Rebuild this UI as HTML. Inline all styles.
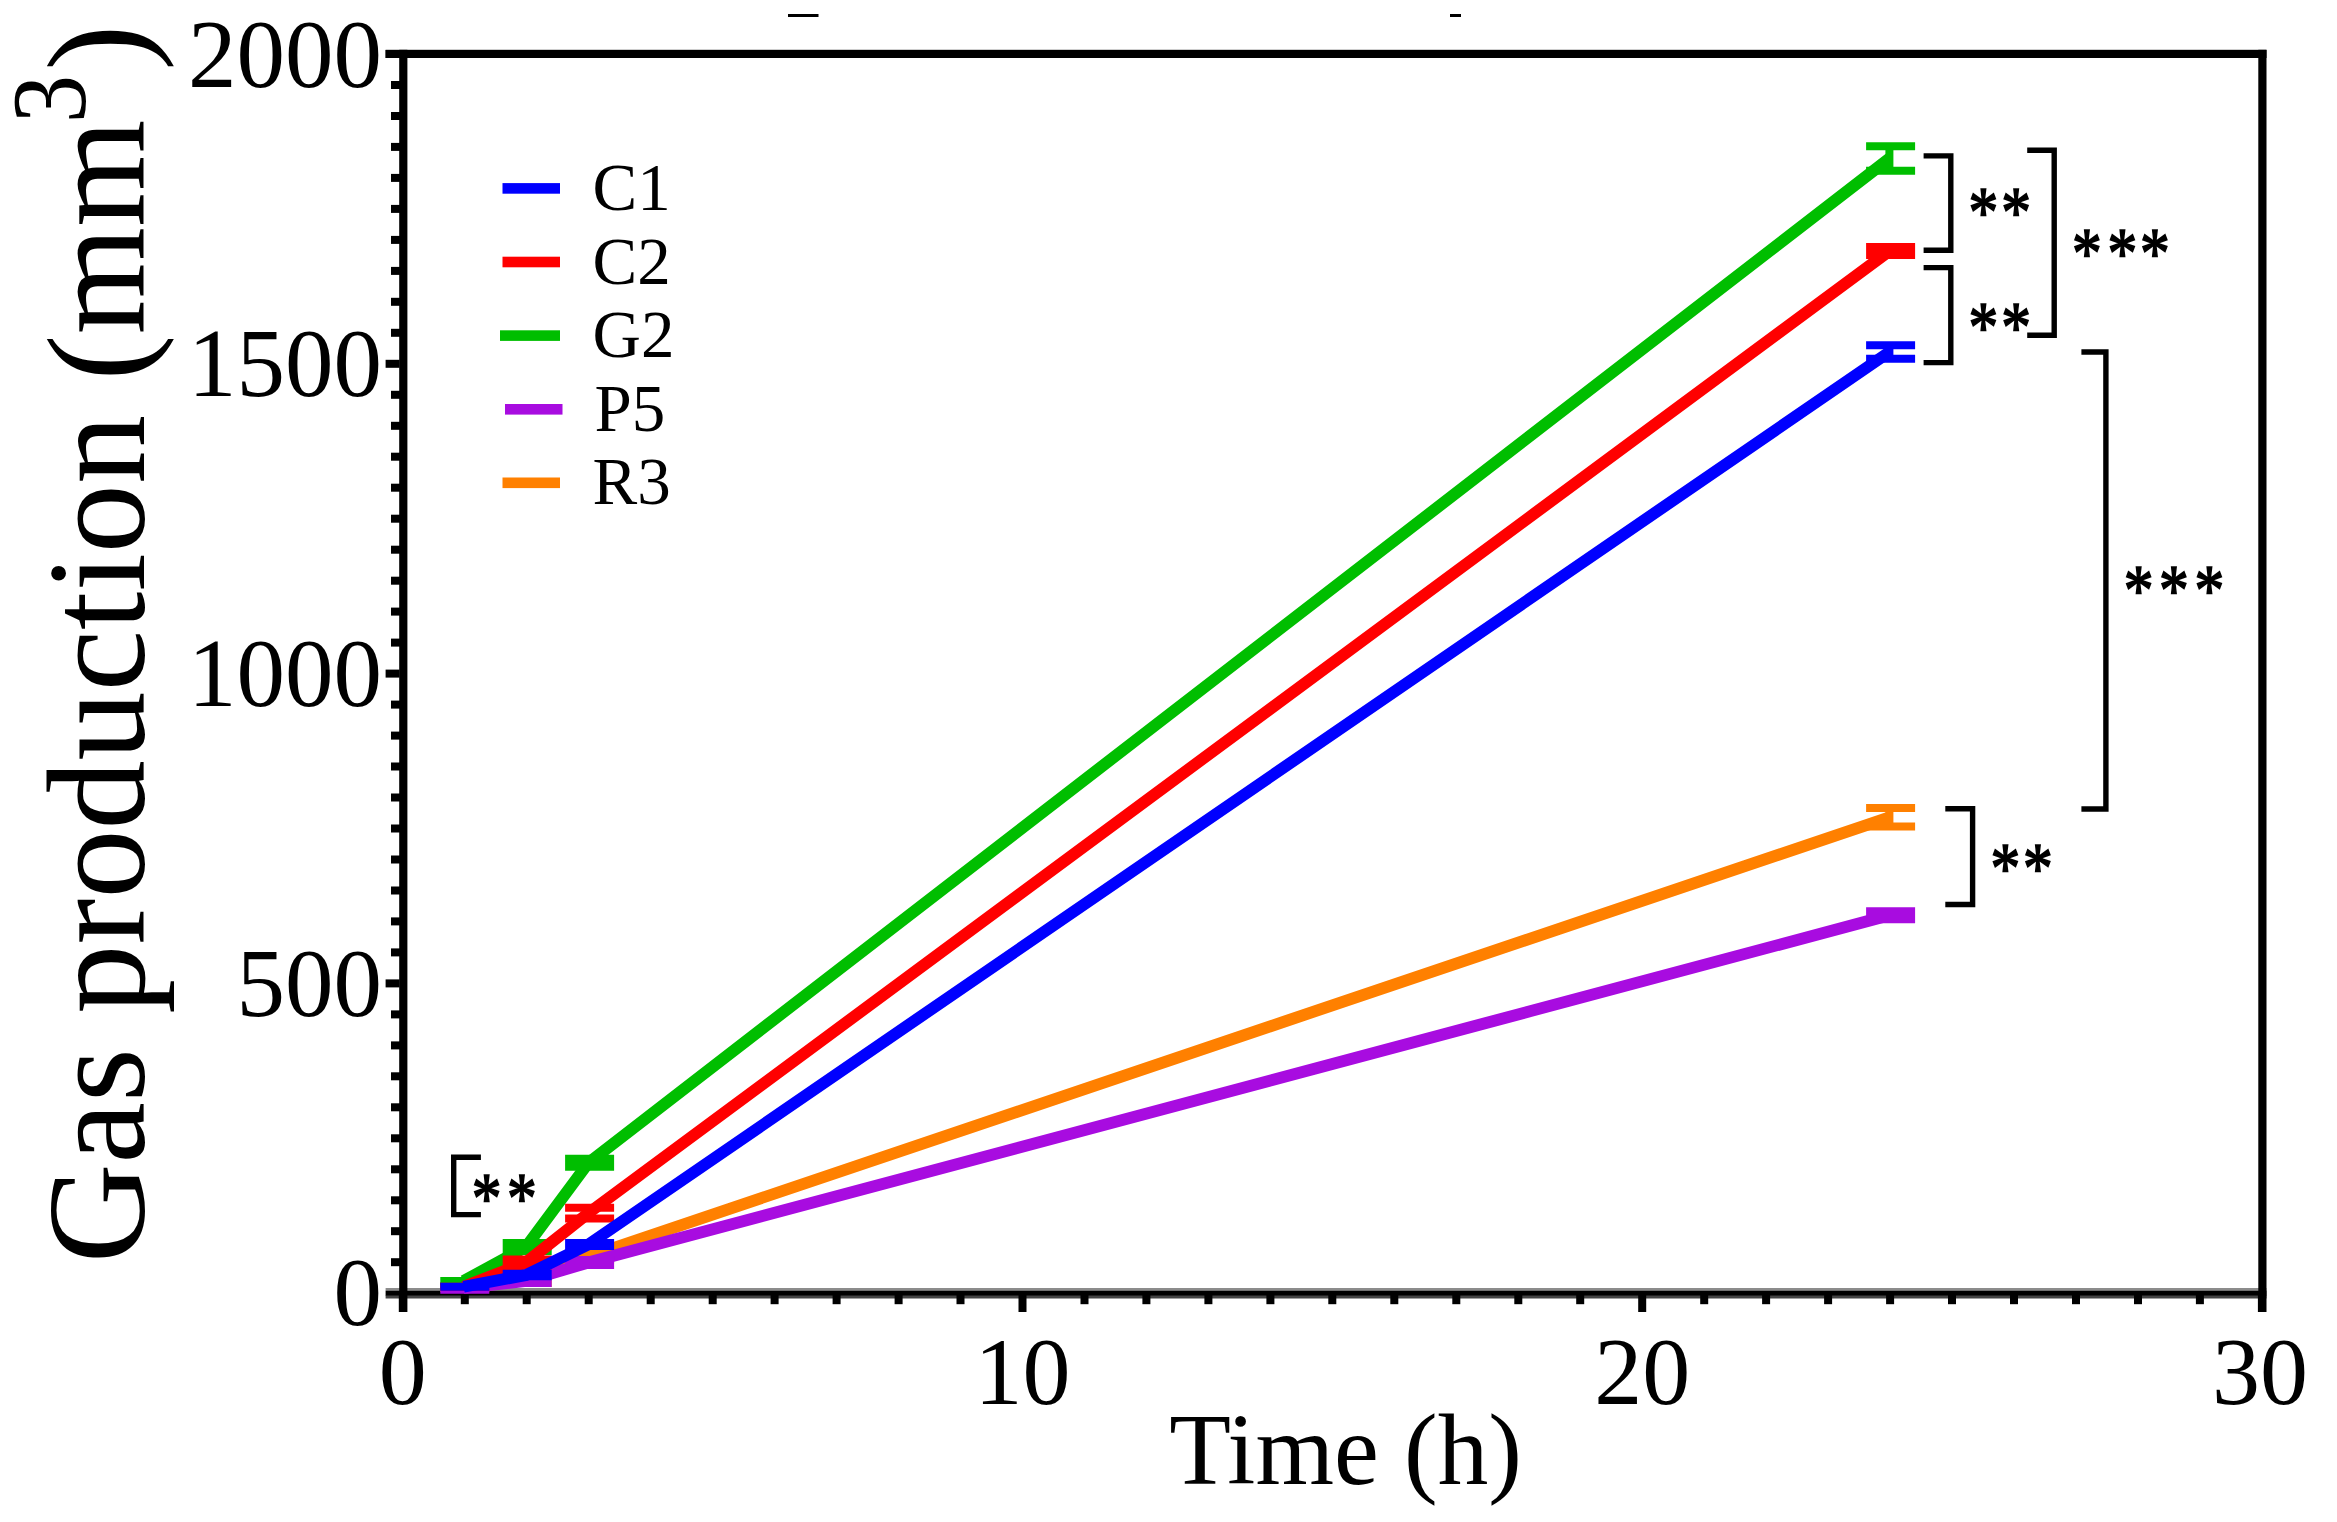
<!DOCTYPE html>
<html lang="en"><head><meta charset="utf-8"><title>Gas production</title>
<style>html,body{margin:0;padding:0;background:#fff;}body{width:2337px;height:1522px;overflow:hidden;}svg{display:block;}text{font-family:"Liberation Serif",serif;fill:#000;}</style>
</head><body>
<svg width="2337" height="1522" viewBox="0 0 2337 1522">
<rect width="2337" height="1522" fill="#fff"/>
<rect x="788" y="14" width="30.5" height="3" fill="#000"/>
<rect x="1450" y="14" width="11" height="3" fill="#000"/>
<g fill="#000">
<rect x="385.6" y="49.8" width="1880.9" height="8.2"/>
<rect x="385.6" y="1288" width="1880.9" height="3" fill="#8c8c8c"/>
<rect x="385.6" y="1295.5" width="1880.9" height="3" fill="#444"/>
<rect x="385.6" y="1290.8" width="1880.9" height="5"/>
<rect x="399.2" y="49.8" width="8.2" height="1262.2"/>
<rect x="2258.3" y="49.8" width="8.2" height="1262.2"/>
<rect x="391" y="1258.2" width="9" height="8"/>
<rect x="391" y="1227.2" width="9" height="8"/>
<rect x="391" y="1196.3" width="9" height="8"/>
<rect x="391" y="1165.3" width="9" height="8"/>
<rect x="391" y="1134.3" width="9" height="8"/>
<rect x="391" y="1103.3" width="9" height="8"/>
<rect x="391" y="1072.3" width="9" height="8"/>
<rect x="391" y="1041.4" width="9" height="8"/>
<rect x="391" y="1010.4" width="9" height="8"/>
<rect x="385.6" y="979.4" width="14" height="8"/>
<rect x="391" y="948.4" width="9" height="8"/>
<rect x="391" y="917.4" width="9" height="8"/>
<rect x="391" y="886.5" width="9" height="8"/>
<rect x="391" y="855.5" width="9" height="8"/>
<rect x="391" y="824.5" width="9" height="8"/>
<rect x="391" y="793.5" width="9" height="8"/>
<rect x="391" y="762.5" width="9" height="8"/>
<rect x="391" y="731.6" width="9" height="8"/>
<rect x="391" y="700.6" width="9" height="8"/>
<rect x="385.6" y="669.6" width="14" height="8"/>
<rect x="391" y="638.6" width="9" height="8"/>
<rect x="391" y="607.6" width="9" height="8"/>
<rect x="391" y="576.7" width="9" height="8"/>
<rect x="391" y="545.7" width="9" height="8"/>
<rect x="391" y="514.7" width="9" height="8"/>
<rect x="391" y="483.7" width="9" height="8"/>
<rect x="391" y="452.7" width="9" height="8"/>
<rect x="391" y="421.8" width="9" height="8"/>
<rect x="391" y="390.8" width="9" height="8"/>
<rect x="385.6" y="359.8" width="14" height="8"/>
<rect x="391" y="328.8" width="9" height="8"/>
<rect x="391" y="297.8" width="9" height="8"/>
<rect x="391" y="266.9" width="9" height="8"/>
<rect x="391" y="235.9" width="9" height="8"/>
<rect x="391" y="204.9" width="9" height="8"/>
<rect x="391" y="173.9" width="9" height="8"/>
<rect x="391" y="142.9" width="9" height="8"/>
<rect x="391" y="112.0" width="9" height="8"/>
<rect x="391" y="81.0" width="9" height="8"/>
<rect x="385.6" y="50.0" width="14" height="8"/>
<rect x="398.8" y="1293" width="8" height="19"/>
<rect x="460.8" y="1293" width="8" height="11.2"/>
<rect x="522.7" y="1293" width="8" height="11.2"/>
<rect x="584.7" y="1293" width="8" height="11.2"/>
<rect x="646.7" y="1293" width="8" height="11.2"/>
<rect x="708.7" y="1293" width="8" height="11.2"/>
<rect x="770.6" y="1293" width="8" height="11.2"/>
<rect x="832.6" y="1293" width="8" height="11.2"/>
<rect x="894.6" y="1293" width="8" height="11.2"/>
<rect x="956.5" y="1293" width="8" height="11.2"/>
<rect x="1018.5" y="1293" width="8" height="19"/>
<rect x="1080.5" y="1293" width="8" height="11.2"/>
<rect x="1142.4" y="1293" width="8" height="11.2"/>
<rect x="1204.4" y="1293" width="8" height="11.2"/>
<rect x="1266.4" y="1293" width="8" height="11.2"/>
<rect x="1328.3" y="1293" width="8" height="11.2"/>
<rect x="1390.3" y="1293" width="8" height="11.2"/>
<rect x="1452.3" y="1293" width="8" height="11.2"/>
<rect x="1514.3" y="1293" width="8" height="11.2"/>
<rect x="1576.2" y="1293" width="8" height="11.2"/>
<rect x="1638.2" y="1293" width="8" height="19"/>
<rect x="1700.2" y="1293" width="8" height="11.2"/>
<rect x="1762.1" y="1293" width="8" height="11.2"/>
<rect x="1824.1" y="1293" width="8" height="11.2"/>
<rect x="1886.1" y="1293" width="8" height="11.2"/>
<rect x="1948.0" y="1293" width="8" height="11.2"/>
<rect x="2010.0" y="1293" width="8" height="11.2"/>
<rect x="2072.0" y="1293" width="8" height="11.2"/>
<rect x="2134.0" y="1293" width="8" height="11.2"/>
<rect x="2195.9" y="1293" width="8" height="11.2"/>
<rect x="2257.9" y="1293" width="8" height="19"/>
</g>
<g fill="none" stroke-linejoin="miter" stroke-linecap="butt">
<g stroke="#ff8000">
<path d="M463.6,1288.0 L526.0,1280.0 L588.4,1256.5 L1889.4,817.3" stroke-width="11.8"/>
<path d="M463.6,1288.0 V1288.0 M440.3,1288.0 H489.3 M440.3,1288.0 H489.3" stroke-width="8"/>
<path d="M526.0,1277.0 V1283.0 M502.7,1277.0 H551.7 M502.7,1283.0 H551.7" stroke-width="8"/>
<path d="M588.4,1253.5 V1259.5 M565.1,1253.5 H614.1 M565.1,1259.5 H614.1" stroke-width="8"/>
<path d="M1889.4,808.0 V826.6 M1866.1,808.0 H1915.1 M1866.1,826.6 H1915.1" stroke-width="8"/>
</g>
<g stroke="#a80ce0">
<path d="M463.6,1288.0 L526.0,1281.0 L588.4,1262.5 L1889.4,915.3" stroke-width="11.8"/>
<path d="M463.6,1286.2 V1289.8 M440.3,1286.2 H489.3 M440.3,1289.8 H489.3" stroke-width="8"/>
<path d="M526.0,1279.0 V1283.0 M502.7,1279.0 H551.7 M502.7,1283.0 H551.7" stroke-width="8"/>
<path d="M588.4,1259.9 V1265.1 M565.1,1259.9 H614.1 M565.1,1265.1 H614.1" stroke-width="8"/>
<path d="M1889.4,911.3 V919.3 M1866.1,911.3 H1915.1 M1866.1,919.3 H1915.1" stroke-width="8"/>
</g>
<g stroke="#00be00">
<path d="M463.6,1281.0 L526.0,1247.0 L588.4,1162.8 L1889.4,158.5" stroke-width="11.8"/>
<path d="M463.6,1281.0 V1281.0 M440.3,1281.0 H489.3 M440.3,1281.0 H489.3" stroke-width="8"/>
<path d="M526.0,1243.0 V1251.0 M502.7,1243.0 H551.7 M502.7,1251.0 H551.7" stroke-width="8"/>
<path d="M588.4,1158.8 V1166.8 M565.1,1158.8 H614.1 M565.1,1166.8 H614.1" stroke-width="8"/>
<path d="M1889.4,146.3 V170.7 M1866.1,146.3 H1915.1 M1866.1,170.7 H1915.1" stroke-width="8"/>
</g>
<g stroke="#ff0000">
<path d="M463.6,1286.8 L526.0,1262.5 L588.4,1213.1 L1889.4,251.0" stroke-width="11.8"/>
<path d="M463.6,1286.8 V1286.8 M440.3,1286.8 H489.3 M440.3,1286.8 H489.3" stroke-width="8"/>
<path d="M526.0,1259.4 V1265.6 M502.7,1259.4 H551.7 M502.7,1265.6 H551.7" stroke-width="8"/>
<path d="M588.4,1207.8 V1218.4 M565.1,1207.8 H614.1 M565.1,1218.4 H614.1" stroke-width="8"/>
<path d="M1889.4,247.0 V255.0 M1866.1,247.0 H1915.1 M1866.1,255.0 H1915.1" stroke-width="8"/>
</g>
<g stroke="#0000ff">
<path d="M463.6,1286.8 L526.0,1275.0 L588.4,1244.5 L1889.4,352.0" stroke-width="11.8"/>
<path d="M463.6,1286.8 V1286.8 M440.3,1286.8 H489.3 M440.3,1286.8 H489.3" stroke-width="8"/>
<path d="M526.0,1273.7 V1276.3 M502.7,1273.7 H551.7 M502.7,1276.3 H551.7" stroke-width="8"/>
<path d="M588.4,1243.0 V1246.0 M565.1,1243.0 H614.1 M565.1,1246.0 H614.1" stroke-width="8"/>
<path d="M1889.4,345.3 V358.7 M1866.1,345.3 H1915.1 M1866.1,358.7 H1915.1" stroke-width="8"/>
</g>
</g>
<g font-size="97" text-anchor="end">
<text x="382" y="1324.5">0</text>
<text x="382" y="1015.9">500</text>
<text x="382" y="706.1">1000</text>
<text x="382" y="396.3">1500</text>
<text x="382" y="86.5">2000</text>
</g>
<g font-size="96" text-anchor="middle">
<text x="402.8" y="1403.5">0</text>
<text x="1022.5" y="1403.5">10</text>
<text x="1642.2" y="1403.5">20</text>
<text x="2259.9" y="1403.5">30</text>
</g>
<text x="1345.5" y="1483.5" font-size="101" text-anchor="middle">Time (h)</text>
<g transform="translate(144.2,1263.2) rotate(-90)">
<text transform="scale(0.9908,1)" x="0" y="0" font-size="139.5">Gas production (mm</text>
<text transform="translate(1140.0,-59.7) scale(0.92,1)" x="0" y="0" font-size="105">3</text>
<text transform="translate(1192.5,0) scale(0.9908,1)" x="0" y="0" font-size="139.5">)</text>
</g>
<rect x="502.5" y="183.1" width="57.5" height="10.6" fill="#0000ff"/>
<text x="592.5" y="210.3" font-size="67">C1</text>
<rect x="502.5" y="256.7" width="57.5" height="10.6" fill="#ff0000"/>
<text x="592.5" y="283.8" font-size="67">C2</text>
<rect x="500.0" y="330.3" width="60.0" height="10.6" fill="#00be00"/>
<text x="592.5" y="357.3" font-size="67">G2</text>
<rect x="505.0" y="404.0" width="57.5" height="10.6" fill="#a80ce0"/>
<text x="594.5" y="430.8" font-size="67">P5</text>
<rect x="502.5" y="477.5" width="57.5" height="10.6" fill="#ff8000"/>
<text x="592.5" y="504.3" font-size="67">R3</text>
<g fill="none" stroke="#000" stroke-width="5.4" stroke-linejoin="miter">
<path d="M1923.6,155.9 H1950.8 V250.3 H1923.6"/>
<path d="M1923.6,267.6 H1950.8 V362.6 H1923.6"/>
<path d="M2027.2,150.3 H2054.2 V335.3 H2027.2"/>
<path d="M2081.4,352 H2105.9 V809 H2081.4"/>
<path d="M1945.3,808.7 H1972.6 V904.5 H1945.3"/>
<path d="M480.9,1157.3 H453.7 V1214.6 H480.9"/>
</g>
<g font-size="66" stroke="#000" stroke-width="1.6" stroke-linejoin="miter">
<text transform="translate(1983.4,201.9) scale(0.9,1.075)" x="0" y="31.7" text-anchor="middle">*</text>
<text transform="translate(2016.0,201.9) scale(0.9,1.075)" x="0" y="31.7" text-anchor="middle">*</text>
<text transform="translate(1983.4,316.5) scale(0.9,1.075)" x="0" y="31.7" text-anchor="middle">*</text>
<text transform="translate(2016.0,316.5) scale(0.9,1.075)" x="0" y="31.7" text-anchor="middle">*</text>
<text transform="translate(2086.9,242.8) scale(0.9,1.075)" x="0" y="31.7" text-anchor="middle">*</text>
<text transform="translate(2122.3,242.8) scale(0.9,1.075)" x="0" y="31.7" text-anchor="middle">*</text>
<text transform="translate(2154.9,242.8) scale(0.9,1.075)" x="0" y="31.7" text-anchor="middle">*</text>
<text transform="translate(2138.5,580.4) scale(0.9,1.075)" x="0" y="31.7" text-anchor="middle">*</text>
<text transform="translate(2173.9,580.4) scale(0.9,1.075)" x="0" y="31.7" text-anchor="middle">*</text>
<text transform="translate(2209.3,580.4) scale(0.9,1.075)" x="0" y="31.7" text-anchor="middle">*</text>
<text transform="translate(2005.3,858.2) scale(0.9,1.075)" x="0" y="31.7" text-anchor="middle">*</text>
<text transform="translate(2037.9,858.2) scale(0.9,1.075)" x="0" y="31.7" text-anchor="middle">*</text>
<text transform="translate(486.5,1187.5) scale(0.9,1.075)" x="0" y="31.7" text-anchor="middle">*</text>
<text transform="translate(521.9,1187.5) scale(0.9,1.075)" x="0" y="31.7" text-anchor="middle">*</text>
</g>
</svg></body></html>
